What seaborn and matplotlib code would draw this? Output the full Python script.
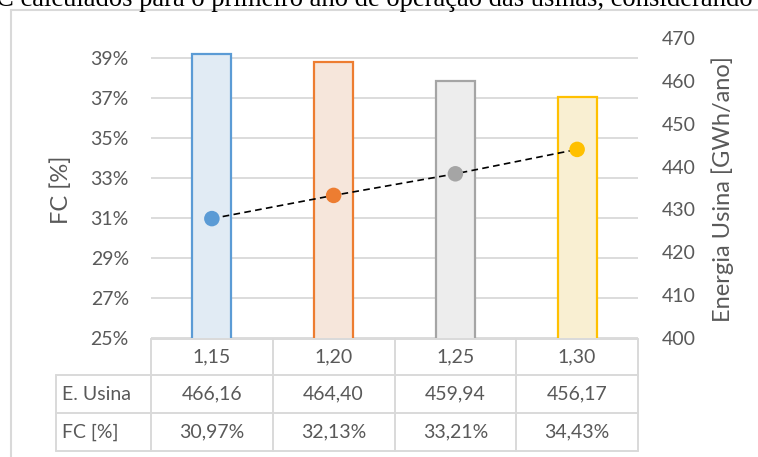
import numpy as np
import pandas as pd
import matplotlib
matplotlib.use("Agg")
import matplotlib.pyplot as plt
import matplotlib.transforms as mtransforms
from matplotlib.lines import Line2D
import seaborn as sns

# ---- data -------------------------------------------------------------
ratios = ["1,15", "1,20", "1,25", "1,30"]
energia = [466.16, 464.40, 459.94, 456.17]      # GWh/ano
fc = [30.97, 32.13, 33.21, 34.43]               # %
fc_ticks = [25, 27, 29, 31, 33, 35, 37, 39]
energia_ticks = [400, 410, 420, 430, 440, 450, 460, 470]
caption = "C calculados para o primeiro ano de operação das usinas, considerando"

edge_colors = ["#5B9BD5", "#ED7D31", "#A5A5A5", "#FFC000"]
fill_colors = ["#DEEBF7", "#FBE5D6", "#EDEDED", "#FFF2CC"]

TXT = "#595959"
GRID = "#D9D9D9"
FS = 14
FS_TITLE = 17

sns.set_theme(style="white")
plt.rcParams["font.family"] = ["Lato", "DejaVu Sans"]

W, H = 758, 457
fig = plt.figure(figsize=(W / 100, H / 100), dpi=100)


def fx(x):
    return x / W


def fy(y):
    return 1 - y / H


# ---- FC axis (left) with gridlines -----------------------------------
ax = fig.add_axes([fx(151), fy(338), (638 - 151) / W, 300 / H])
ax.set_ylim(25, 40)
ax.set_xlim(-0.5, len(ratios) - 0.5)
ax.set_yticks(fc_ticks)
ax.set_yticklabels([f"{t}%" for t in fc_ticks])
ax.set_xticks([])
ax.grid(axis="y", color=GRID, lw=1.3)
ax.tick_params(axis="y", length=0, pad=16, labelsize=FS, labelcolor=TXT)
for s in ax.spines.values():
    s.set_visible(False)

# ---- energy bars (right axis) -----------------------------------------
df = pd.DataFrame({"ratio": ratios, "energia": energia, "fc": fc})
ax_e = ax.twinx()
sns.barplot(data=df, x="ratio", y="energia", hue="ratio",
            palette=dict(zip(ratios, fill_colors)), legend=False,
            width=0.32, linewidth=1.6, ax=ax_e)
for patch, ec in zip(ax_e.patches, edge_colors):
    patch.set_edgecolor(ec)
ax_e.set_ylim(400, 470)
ax_e.set_xlim(-0.5, len(ratios) - 0.5)
ax_e.set_yticks(energia_ticks)
ax_e.set_xticks([])
ax_e.set_xlabel("")
ax_e.set_ylabel("")
ax_e.grid(False)
ax_e.tick_params(axis="y", length=0, pad=17, labelsize=FS, labelcolor=TXT)
for s in ax_e.spines.values():
    s.set_visible(False)

# ---- FC points with dashed trend line ----------------------------------
ax_p = ax.twinx()
pos = np.arange(len(ratios))
sns.lineplot(x=pos, y=fc, color="black", lw=1.2,
             linestyle=(0, (4, 2.6)), ax=ax_p, zorder=2)
sns.scatterplot(x=pos, y=fc, hue=ratios, palette=edge_colors, s=125,
                edgecolor="none", legend=False, ax=ax_p, zorder=3)
ax_p.set_ylim(25, 40)
ax_p.set_xlim(-0.5, len(ratios) - 0.5)
ax_p.set_yticks([])
ax_p.set_xticks([])
ax_p.set_xlabel("")
ax_p.set_ylabel("")
for s in ax_p.spines.values():
    s.set_visible(False)

# ---- axis titles --------------------------------------------------------
fig.text(fx(61), fy(190), "FC [%]", rotation=90, ha="center", va="center",
         fontsize=FS_TITLE, color=TXT)
fig.text(fx(723), fy(189), "Energia Usina [GWh/ano]", rotation=90,
         ha="center", va="center", fontsize=FS_TITLE, color=TXT)

# ---- data table below the plot -----------------------------------------
tr = mtransforms.blended_transform_factory(ax.transData, fig.transFigure)
x_left, x_lab, x_right = fx(56), fx(151), fx(638)
rows_y = [fy(339), fy(375), fy(413), fy(451)]
lw_t = 1.4
fig.add_artist(Line2D([x_lab, x_right], [rows_y[0]] * 2, color=GRID, lw=lw_t))
for yy in rows_y[1:]:
    fig.add_artist(Line2D([x_left, x_right], [yy] * 2, color=GRID, lw=lw_t))
fig.add_artist(Line2D([x_left, x_left], [rows_y[1], rows_y[3]], color=GRID, lw=lw_t))
for xx in [x_lab, x_right]:
    fig.add_artist(Line2D([xx, xx], [rows_y[0], rows_y[3]], color=GRID, lw=lw_t))
for i in range(1, len(ratios)):
    fig.add_artist(Line2D([i - 0.5, i - 0.5], [rows_y[0], rows_y[3]],
                          color=GRID, lw=lw_t, transform=tr))

row_centers = [fy(357), fy(394), fy(432)]
fig.text(fx(62), row_centers[1], "E. Usina", ha="left", va="center",
         fontsize=FS, color=TXT)
fig.text(fx(62), row_centers[2], "FC [%]", ha="left", va="center",
         fontsize=FS, color=TXT)
for i, (r, e, f) in enumerate(zip(ratios, energia, fc)):
    fig.text(i, row_centers[0], r, transform=tr, ha="center", va="center",
             fontsize=FS, color=TXT)
    fig.text(i, row_centers[1], f"{e:.2f}".replace(".", ","), transform=tr,
             ha="center", va="center", fontsize=FS, color=TXT)
    fig.text(i, row_centers[2], f"{f:.2f}%".replace(".", ","), transform=tr,
             ha="center", va="center", fontsize=FS, color=TXT)

# ---- chart frame and caption line above it ------------------------------
fig.add_artist(Line2D([fx(11), 1.0], [fy(9.5)] * 2, color=GRID, lw=1.5))
fig.add_artist(Line2D([fx(11), fx(11)], [fy(9.5), 0.0], color=GRID, lw=1.5))
fig.text(fx(-4), fy(5.7), caption, ha="left", va="baseline",
         fontsize=19.2, color="black", family=["Liberation Serif"])

fig.savefig("out.png", dpi=100)
